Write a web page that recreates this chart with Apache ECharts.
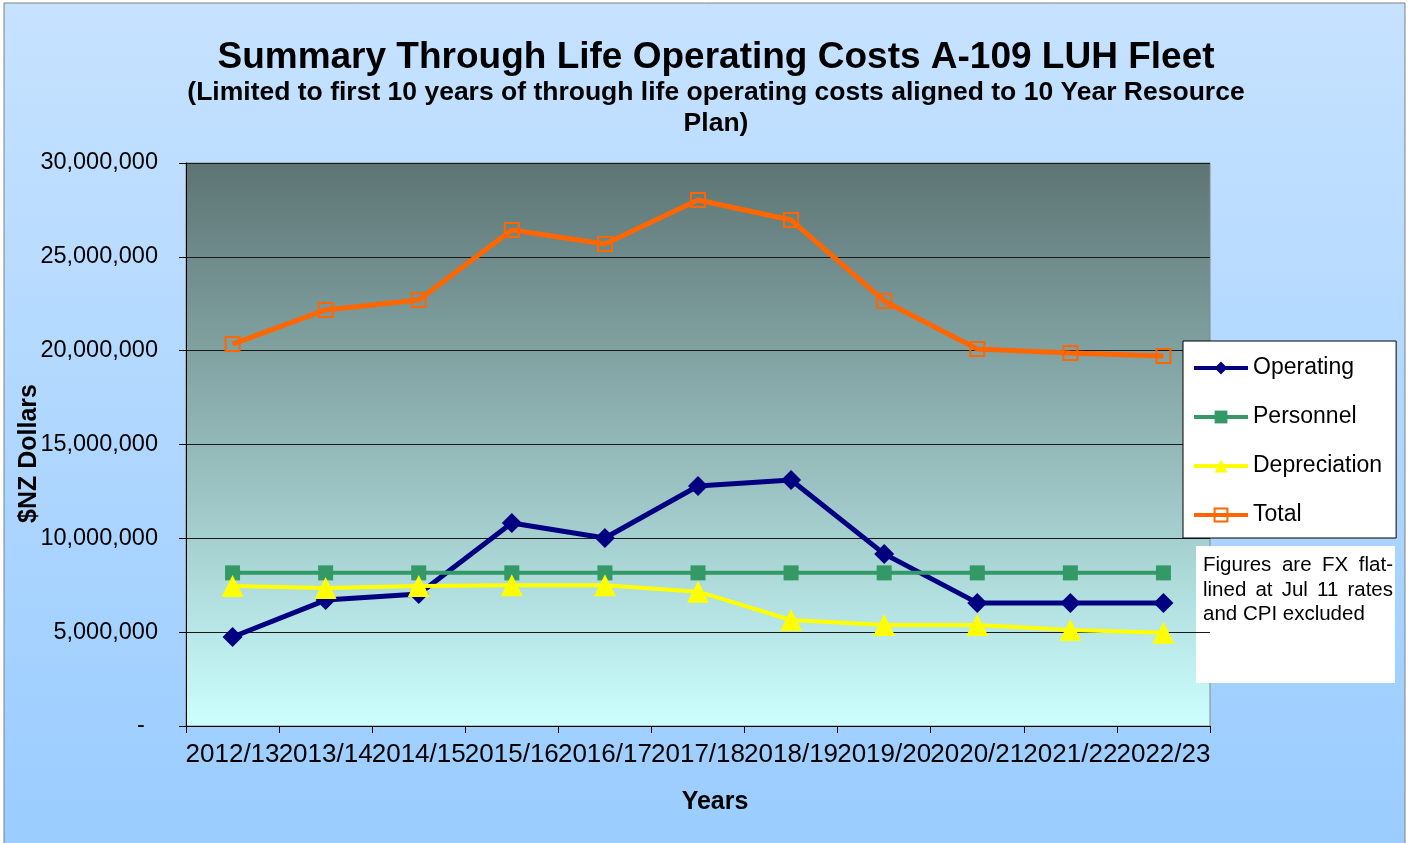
<!DOCTYPE html>
<html>
<head>
<meta charset="utf-8">
<script src="https://cdn.jsdelivr.net/npm/echarts@6/dist/echarts.min.js"></script>
<style>
html,body{margin:0;padding:0;background:#fff;}
#chart{width:1413px;height:843px;}
</style>
</head>
<body>
<div id="chart"></div>
<script>
const categories = ['2012/13','2013/14','2014/15','2015/16','2016/17','2017/18','2018/19','2019/20','2020/21','2021/22','2022/23'];
const operating = [4740000, 6710000, 7030000, 10820000, 10020000, 12790000, 13110000, 9170000, 6560000, 6560000, 6560000];
const personnel = [8160000, 8160000, 8160000, 8160000, 8160000, 8160000, 8160000, 8160000, 8160000, 8160000, 8160000];
const depreciation = [7460000, 7350000, 7460000, 7500000, 7500000, 7160000, 5650000, 5380000, 5380000, 5120000, 4970000];
const total = [20350000, 22170000, 22700000, 26430000, 25680000, 28030000, 26960000, 22650000, 20090000, 19880000, 19720000];
const yTicks = { min: 0, max: 30000000, interval: 5000000 };
const noteLines = ['Figures are FX flat-', 'lined at Jul 11 rates', 'and CPI excluded'];

const FONT = '"Liberation Sans", Arial, sans-serif';
const NOTE_FONT = '20.5px ' + FONT;

// Justified note text (last line left aligned)
function noteTexts() {
  const ctx = document.createElement('canvas').getContext('2d');
  ctx.font = NOTE_FONT;
  const boxW = 190, x0 = 7, y0 = 9, lh = 24.5;
  const out = [];
  noteLines.forEach((line, i) => {
    const words = line.split(' ');
    const y = y0 + i * lh;
    if (i === noteLines.length - 1 || words.length < 2) {
      out.push({ type: 'text', x: x0, y: y, style: { text: line, font: NOTE_FONT, fill: '#000' } });
      return;
    }
    const wsum = words.reduce((s, w) => s + ctx.measureText(w).width, 0);
    const gap = (boxW - wsum) / (words.length - 1);
    let x = x0;
    words.forEach(w => {
      out.push({ type: 'text', x: x, y: y, style: { text: w, font: NOTE_FONT, fill: '#000' } });
      x += ctx.measureText(w).width + gap;
    });
  });
  return out;
}

const chart = echarts.init(document.getElementById('chart'));

chart.setOption({
  backgroundColor: '#ffffff',
  textStyle: { fontFamily: FONT, color: '#000' },
  title: {
    left: 711, top: 34, textAlign: 'center',
    text: 'Summary Through Life Operating Costs A-109 LUH Fleet',
    textStyle: { fontFamily: FONT, fontSize: 37, fontWeight: 'bold', color: '#000' },
    subtext: '(Limited to first 10 years of through life operating costs aligned to 10 Year Resource\nPlan)',
    subtextStyle: { fontFamily: FONT, fontSize: 26.5, fontWeight: 'bold', color: '#000', lineHeight: 31 },
    itemGap: 1
  },
  graphic: [
    {
      type: 'rect', z: -10, silent: true,
      shape: { x: 4, y: 3, width: 1401, height: 860 },
      style: {
        fill: new echarts.graphic.LinearGradient(0, 0, 0, 1, [
          { offset: 0, color: '#c6e2ff' },
          { offset: 1, color: '#99ccff' }
        ]),
        stroke: '#808080', lineWidth: 1
      }
    },
    {
      type: 'group', z: 100, left: 1196, top: 546,
      children: [
        { type: 'rect', shape: { x: 0, y: 0, width: 199, height: 137 }, style: { fill: '#ffffff' } }
      ].concat(noteTexts())
    }
  ],
  grid: {
    left: 186, top: 163, right: 203, bottom: 117,
    outerBoundsMode: 'none',
    show: true,
    backgroundColor: new echarts.graphic.LinearGradient(0, 0, 0, 1, [
      { offset: 0, color: '#5d7474' },
      { offset: 0.5, color: '#93b8b8' },
      { offset: 1, color: '#ccffff' }
    ]),
    borderColor: '#888', borderWidth: 1
  },
  legend: {
    orient: 'vertical', left: 1183, top: 341,
    backgroundColor: '#ffffff', borderColor: '#000', borderWidth: 1,
    padding: [15, 14, 11, 9],
    itemWidth: 54, itemHeight: 16, itemGap: 25,
    lineStyle: { width: 4 },
    textStyle: { fontFamily: FONT, fontSize: 23, color: '#000', lineHeight: 24 },
    data: ['Operating', 'Personnel', 'Depreciation', 'Total']
  },
  xAxis: {
    type: 'category', data: categories, boundaryGap: true,
    axisLine: { show: true, lineStyle: { color: '#000', width: 1 } },
    axisTick: { show: true, interval: 0, length: 7, lineStyle: { color: '#000' } },
    axisLabel: { interval: 0, fontSize: 26, color: '#000', fontFamily: FONT, margin: 16 },
    name: 'Years', nameLocation: 'middle', nameGap: 64, nameMoveOverlap: false,
    nameTextStyle: { fontSize: 25, fontWeight: 'bold', color: '#000', fontFamily: FONT, padding: [0, 0, 0, 34] }
  },
  yAxis: {
    type: 'value', min: yTicks.min, max: yTicks.max, interval: yTicks.interval,
    axisLine: { show: true, lineStyle: { color: '#000', width: 1 } },
    axisTick: { show: true, length: 7, lineStyle: { color: '#000' } },
    splitLine: { show: true, lineStyle: { color: '#1a1a1a', width: 1 } },
    axisLabel: {
      fontSize: 23.5, color: '#000', fontFamily: FONT, margin: 28,
      formatter: v => v === 0 ? '-  ' : v.toLocaleString('en-US')
    },
    name: '$NZ Dollars', nameLocation: 'middle', nameRotate: 90, nameGap: 144, nameMoveOverlap: false,
    nameTextStyle: { fontSize: 25, fontWeight: 'bold', color: '#000', fontFamily: FONT, padding: [0, 18, 0, 0] }
  },
  series: [
    {
      name: 'Operating', type: 'line', data: operating,
      symbol: 'diamond', symbolSize: 20,
      lineStyle: { color: '#000080', width: 5 },
      itemStyle: { color: '#000080' }, z: 3
    },
    {
      name: 'Personnel', type: 'line', data: personnel,
      symbol: 'rect', symbolSize: 15,
      lineStyle: { color: '#339966', width: 4 },
      itemStyle: { color: '#339966' }, z: 4
    },
    {
      name: 'Depreciation', type: 'line', data: depreciation,
      symbol: 'triangle', symbolSize: 22,
      lineStyle: { color: '#ffff00', width: 4 },
      itemStyle: { color: '#ffff00' }, z: 5
    },
    {
      name: 'Total', type: 'line', data: total,
      symbol: 'rect', symbolSize: 14,
      lineStyle: { color: '#ff6600', width: 5 },
      itemStyle: { color: 'rgba(0,0,0,0)', borderColor: '#ff6600', borderWidth: 2 }, z: 6
    }
  ]
});
</script>
</body>
</html>
